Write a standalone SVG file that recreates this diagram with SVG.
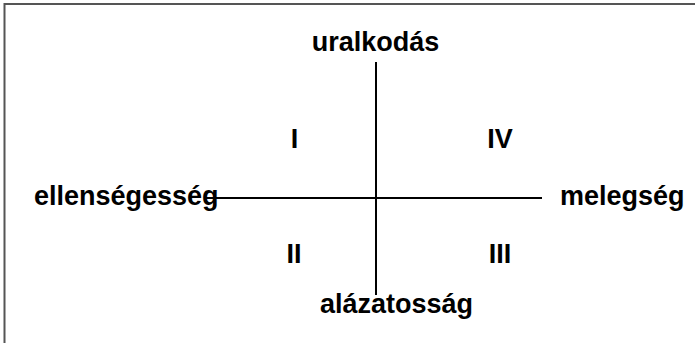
<svg xmlns="http://www.w3.org/2000/svg" width="695" height="343" viewBox="0 0 695 343">
<style>
.t{font-family:"Liberation Sans",Arial,sans-serif;font-weight:bold;font-size:27px;fill:#000}
.ax{stroke:#000;stroke-width:2;fill:none}
.fr{stroke:#555;stroke-width:2;fill:none}
</style>
<rect width="695" height="343" fill="#fff"/>
<path class="fr" d="M4.5,343 V4 H695"/>
<g id="connectors">
<line class="ax" x1="376" y1="62" x2="376" y2="295"/>
<line class="ax" x1="205" y1="198" x2="542" y2="198"/>
</g>
<g id="top"><text class="t" x="375.5" y="51" text-anchor="middle">uralkodás</text></g>
<g id="bottom"><text class="t" x="396.5" y="313" text-anchor="middle">alázatosság</text></g>
<g id="left"><text class="t" x="34" y="205">ellenségesség</text></g>
<g id="right"><text class="t" x="560" y="205">melegség</text></g>
<g id="q1"><text class="t" x="294.5" y="148" text-anchor="middle">I</text></g>
<g id="q4"><text class="t" x="500" y="148" text-anchor="middle">IV</text></g>
<g id="q2"><text class="t" x="294" y="263" text-anchor="middle">II</text></g>
<g id="q3"><text class="t" x="500" y="263" text-anchor="middle">III</text></g>
</svg>
